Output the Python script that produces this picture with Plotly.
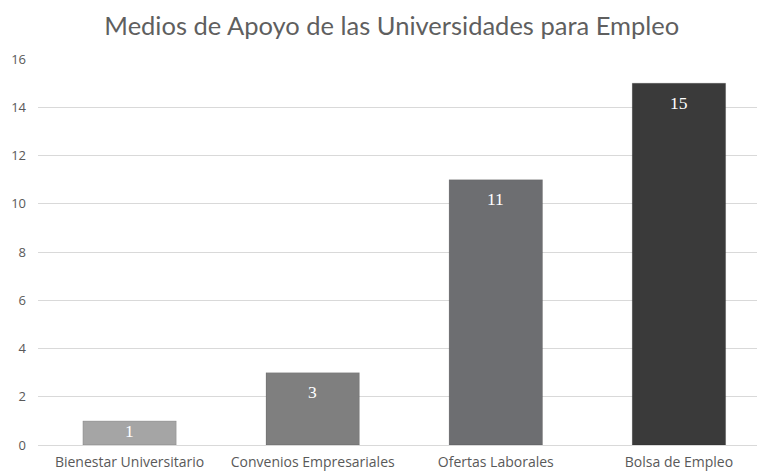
import plotly.graph_objects as go

categories = ["Bienestar Universitario", "Convenios Empresariales", "Ofertas Laborales", "Bolsa de Empleo"]
values = [1, 3, 11, 15]
bar_colors = ["#a5a5a5", "#7f7f7f", "#6d6e71", "#3a3a3a"]
y_ticks = [0, 2, 4, 6, 8, 10, 12, 14, 16]

fig = go.Figure(go.Bar(
    x=categories, y=values,
    marker=dict(color=bar_colors, line=dict(color="rgba(0,0,0,0.12)", width=1)),
    width=0.51,
    hoverinfo="x+y",
))

# page body has an 8px margin; figure sized to fit the 765x471 window
W, H = 757, 463
M = dict(l=30, r=0, t=51, b=26)
Y_MAX = 16
px_per_unit = (H - M["t"] - M["b"]) / Y_MAX

for c, v in zip(categories, values):
    shift = -min(19.5, v * px_per_unit / 2 - 2)
    fig.add_annotation(x=c, y=v, text=str(v), showarrow=False, yanchor="middle",
                       yshift=shift, font=dict(family="Liberation Serif", size=17.5, color="white"))

fig.update_layout(
    width=W, height=H,
    margin=M,
    paper_bgcolor="white", plot_bgcolor="white",
    title=dict(text="Medios de Apoyo de las Universidades para Empleo",
               x=0.507, xanchor="center", y=0.962, yanchor="middle",
               font=dict(family="Lato", size=25.5, color="#5f5f5f")),
    showlegend=False,
)
fig.update_xaxes(range=[-0.5, 3.47], showgrid=False, showline=True, linecolor="#d9d9d9",
                 ticks="", automargin=False, ticklabelstandoff=4,
                 tickfont=dict(family="Open Sans", size=14, color="#595959"))
fig.update_yaxes(range=[0, Y_MAX], tickvals=y_ticks, showgrid=True, gridcolor="#d9d9d9",
                 zeroline=False, ticks="", ticklabelstandoff=11, automargin=False,
                 tickfont=dict(family="Open Sans", size=13, color="#595959"))

fig.write_html("out.html")
